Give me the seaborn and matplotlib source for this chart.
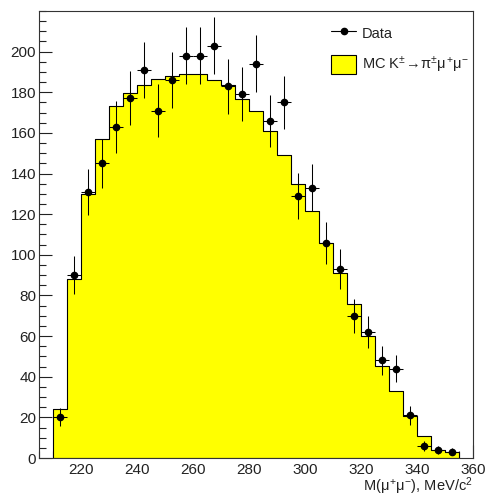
import numpy as np
import pandas as pd
import matplotlib
matplotlib.use("Agg")
import matplotlib.pyplot as plt
from matplotlib.lines import Line2D
from matplotlib.patches import Patch
import seaborn as sns

# bin edges of the M(mu mu) histogram, 5 MeV wide
bin_edges = list(range(210, 356, 5))
bin_centers = [e + 2.5 for e in bin_edges[:-1]]

# MC K -> pi mu mu expectation per bin
mc_counts = [24, 88, 130, 157, 173, 179.5, 183.5, 186.5, 188, 189, 189, 186,
             183.5, 176.5, 171, 161, 149, 135, 121.5, 106, 91, 76, 60, 45.5,
             33, 20.5, 11, 4, 3]

# observed data per bin
data_counts = [20, 90, 131, 145, 163, 177, 191, 171, 186, 198, 198, 203,
               183, 179, 194, 166, 175, 129, 133, 106, 93, 70, 62, 48,
               44, 21, 6, 4, 3]

sns.set_style("ticks")
plt.rcParams["font.family"] = ["Liberation Sans", "DejaVu Sans"]
plt.rcParams["mathtext.fontset"] = "custom"
plt.rcParams["mathtext.rm"] = "Liberation Sans"
plt.rcParams["mathtext.it"] = "Liberation Sans"
plt.rcParams["mathtext.bf"] = "Liberation Sans:bold"

fig = plt.figure(figsize=(4.9, 4.98), dpi=100)
ax = fig.add_axes([0.0796, 0.0803, 0.8857, 0.8977])

mc_df = pd.DataFrame({"mass": bin_centers, "count": mc_counts})
sns.histplot(data=mc_df, x="mass", weights="count", bins=bin_edges,
             element="step", fill=True, facecolor="#ffff00",
             edgecolor="black", linewidth=0.8, alpha=1, ax=ax)

yerr = np.sqrt(data_counts)
ax.errorbar(bin_centers, data_counts, xerr=2.5, yerr=yerr, fmt="o",
            color="black", markersize=4.5, elinewidth=0.75, capsize=0,
            zorder=5)

ax.set_xlim(205, 360)
ax.set_ylim(0, 220)
ax.set_xticks(np.arange(220, 361, 20))
ax.set_xticks(np.arange(205, 361, 5), minor=True)
ax.set_yticks(np.arange(0, 201, 20))
ax.set_yticks(np.arange(0, 221, 5), minor=True)
ax.tick_params(which="both", direction="in", top=False, right=False,
               labelsize=11, colors="#222222", width=0.8)
ax.tick_params(which="major", length=9.5)
ax.tick_params(which="minor", length=5)
ax.tick_params(axis="y", pad=2)
ax.tick_params(axis="x", pad=3.5)
for s in ax.spines.values():
    s.set_linewidth(0.8)
    s.set_color("#333333")

ax.set_ylabel("")
ax.set_xlabel(r"M($\mu^{+}\mu^{-}$), MeV/c$^{2}$", loc="right", fontsize=10.5,
              labelpad=-1, color="#222222")

handles = [
    Line2D([0], [0], color="black", marker="o", markersize=4.5,
           linewidth=0.8),
    Patch(facecolor="#ffff00", edgecolor="black", linewidth=0.8),
]
labels = ["Data", r"MC K$^{\pm}\!\rightarrow\!\pi^{\pm}\mu^{+}\mu^{-}$"]
ax.legend(handles, labels, loc="upper left", bbox_to_anchor=(0.643, 0.999),
          frameon=False, fontsize=10.5, handlelength=1.7, handleheight=1.55,
          handletextpad=0.4, labelspacing=0.82, labelcolor="#222222")

fig.savefig("out.png", dpi=100, facecolor="white")
